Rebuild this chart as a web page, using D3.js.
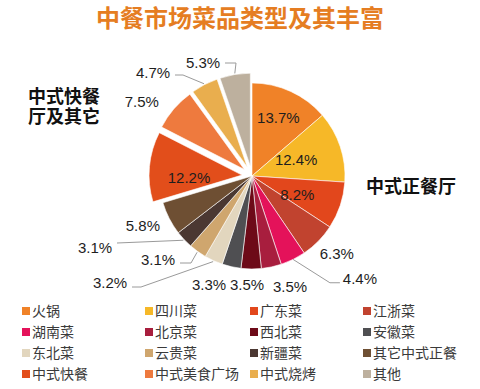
<!DOCTYPE html>
<html><head><meta charset="utf-8">
<script src="https://cdn.jsdelivr.net/npm/d3@7"></script>
<style>
html,body{margin:0;padding:0;background:#fff;}
svg{display:block;}
</style></head>
<body>
<svg id="chart" width="480" height="389"></svg>
<script>
// ---- data ----
const categories = ["火锅","四川菜","广东菜","江浙菜","湖南菜","北京菜","西北菜","安徽菜","东北菜","云贵菜","新疆菜","其它中式正餐","中式快餐","中式美食广场","中式烧烤","其他"];
const values = [13.7,12.4,8.2,6.3,4.4,3.5,3.5,3.3,3.2,3.1,3.1,5.8,12.2,7.5,4.7,5.3];
const labels = values.map(v => v.toFixed(1) + "%");
const exploded = [0,0,0,0,0,0,0,0,0,0,0,0,1,1,1,1];
const title = "中餐市场菜品类型及其丰富";
const groupRight = ["中式正餐厅"];
const groupLeft = ["中式快餐","厅及其它"];

// ---- styles ----
const colors = ["#F08228","#F6B828","#E2471C","#C1432F","#E4125A","#A81E3E","#6D0A18","#4F4F52",
                "#E2D6BE","#CFA66E","#4B3832","#6E4F33","#E24E1B","#EE7A3E","#E9AE4E","#BDB09E"];
const cx = 252, cy = 176, R = 93, explodeOff = 10;
// label placement: polar (angle deg, radius) from pie centre
const labelPolar = [
  [24.3,64],[70,47],[112.5,49],[132.5,115],[133.6,149],[161,117],[182.6,109],[201.5,117],
  [null,null],[null,null],[null,null],[245.4,120],[268.5,63],[304,133],[null,null],[null,null]
];
// label centres for labels with leader lines
const leaderLabel = {8:[110,283], 9:[158,260], 10:[95,248], 14:[153,73], 15:[203,63]};
const leaderH = {4:10, 8:9, 9:11, 10:0, 14:8, 15:11};
const leaderDy = {4:4, 8:4, 9:3, 10:-5, 14:2, 15:0};

const svg = d3.select("#chart");
const numFont = "'Liberation Sans', Arial, sans-serif";
const cjkFont = "'Noto Sans CJK SC', 'Noto Sans', sans-serif";

svg.append("text").attr("x", 240).attr("y", 18).attr("dy", "0.37em")
  .attr("text-anchor", "middle").attr("font-family", cjkFont).attr("font-weight", "bold")
  .attr("font-size", 24).attr("fill", "#E57D22").text(title);

const pie = d3.pie().sort(null).value(d => d);
const arcs = pie(values);
const arc = d3.arc().innerRadius(0).outerRadius(R);
const toRad = a => a * Math.PI / 180;
const polar = (a, r) => [Math.sin(a) * r, -Math.cos(a) * r];

const g = svg.append("g").attr("transform", `translate(${cx},${cy})`);
arcs.forEach((d, i) => {
  const mid = (d.startAngle + d.endAngle) / 2;
  const off = exploded[i] ? polar(mid, explodeOff) : [0, 0];
  d.off = off; d.mid = mid;
  g.append("path").attr("d", arc(d)).attr("transform", `translate(${off[0]},${off[1]})`)
    .attr("fill", colors[i]).attr("stroke", "#fff").attr("stroke-width", 0.6);
});

// labels
const lab = svg.append("g").attr("font-family", numFont).attr("font-size", 15).attr("fill", "#1e1e1e");
arcs.forEach((d, i) => {
  let x, y;
  if (!(i in leaderLabel)) {
    const p = polar(toRad(labelPolar[i][0]), labelPolar[i][1]);
    x = cx + p[0]; y = cy + p[1];
    if (i in leaderH) {
      const s = polar(d.mid, R);
      const lx = x - 20; const ly = y + leaderDy[i];
      lab.append("path").attr("d", d3.line()([[cx + s[0], cy + s[1]], [lx - leaderH[i], ly], [lx, ly]]))
        .attr("fill", "none").attr("stroke", "#9a9a9a").attr("stroke-width", 1);
    }
  } else {
    [x, y] = leaderLabel[i];
    const s = polar(d.mid, R + 1);
    const sx = cx + d.off[0] + s[0], sy = cy + d.off[1] + s[1];
    const ex = x + 22, ey = y + leaderDy[i];
    const pts = [[ex, ey]];
    if (leaderH[i] > 0) pts.push([ex + leaderH[i], ey]);
    pts.push([sx, sy]);
    lab.append("path").attr("d", d3.line()(pts)).attr("fill", "none")
      .attr("stroke", "#9a9a9a").attr("stroke-width", 1);
  }
  lab.append("text").attr("x", x).attr("y", y).attr("dy", "0.35em")
    .attr("text-anchor", "middle").text(labels[i]);
});

// group labels
svg.append("text").attr("x", 411).attr("y", 186).attr("dy", "0.37em").attr("text-anchor", "middle")
  .attr("font-family", cjkFont).attr("font-weight", "bold").attr("font-size", 18).attr("fill", "#111")
  .text(groupRight[0]);
const gl = svg.append("text").attr("text-anchor", "middle")
  .attr("font-family", cjkFont).attr("font-weight", "bold").attr("font-size", 18).attr("fill", "#111");
groupLeft.forEach((t, k) => {
  gl.append("tspan").attr("x", 64).attr("y", 96 + k * 20).attr("dy", "0.37em").text(t);
});

// legend
const colX = [22, 145, 250, 363];
const rowY = [311, 332, 353, 374];
const leg = svg.append("g").attr("font-family", cjkFont).attr("font-size", 14).attr("fill", "#3a3a3a");
categories.forEach((c, i) => {
  const x = colX[i % 4], y = rowY[Math.floor(i / 4)];
  leg.append("rect").attr("x", x).attr("y", y - 4).attr("width", 8).attr("height", 8).attr("fill", colors[i]);
  leg.append("text").attr("x", x + 10).attr("y", y).attr("dy", "0.37em").text(c);
});
</script>
</body></html>
